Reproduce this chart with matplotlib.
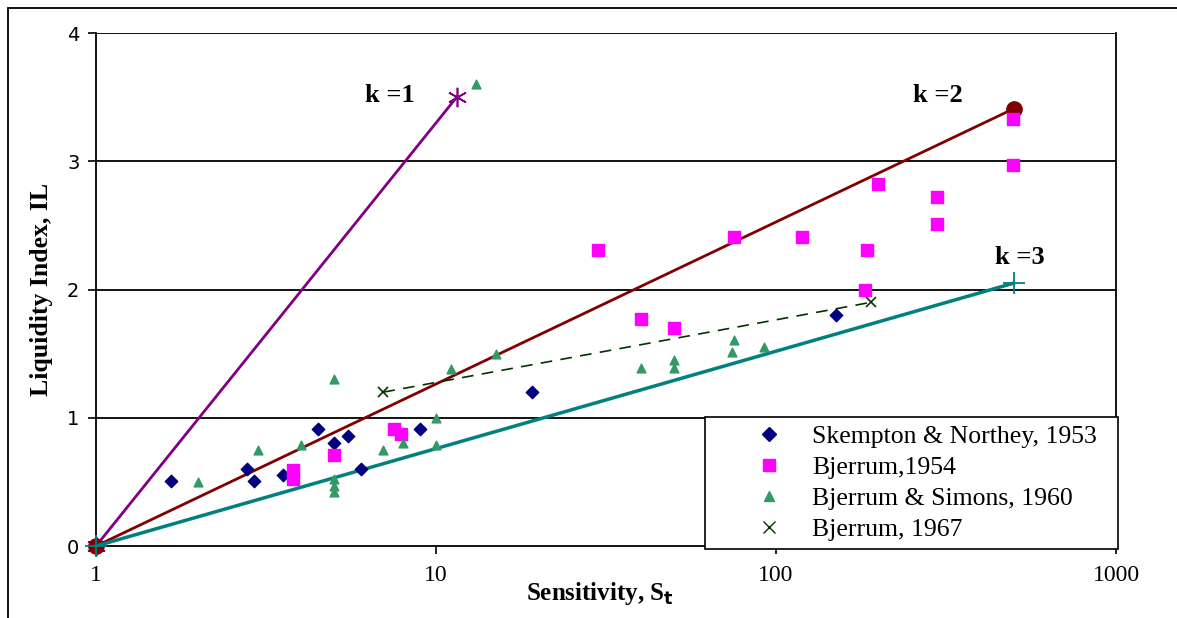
import matplotlib
matplotlib.use("Agg")
import matplotlib.pyplot as plt
from matplotlib.lines import Line2D
from matplotlib.patches import Rectangle

# Skempton & Northey, 1953
sn_st = [1.66, 2.78, 2.92, 3.55, 4.5, 5.0, 5.5, 6.0, 9.0, 19.2, 150]
sn_il = [0.51, 0.60, 0.51, 0.55, 0.91, 0.80, 0.86, 0.60, 0.91, 1.20, 1.80]

# Bjerrum, 1954
b54_st = [3.8, 3.8, 5.0, 7.5, 7.9, 30, 40, 50, 75, 119, 185, 183, 200, 297, 297, 498, 498]
b54_il = [0.59, 0.52, 0.71, 0.91, 0.87, 2.31, 1.77, 1.70, 2.41, 2.41, 2.31, 2.00, 2.82,
          2.72, 2.51, 3.33, 2.97]

# Bjerrum & Simons, 1960
bs_st = [2.0, 3.0, 4.0, 5.0, 5.0, 5.0, 5.0, 7.0, 8.0, 10, 10, 11.1, 13.1, 15, 40, 50, 50,
         75, 74, 92]
bs_il = [0.50, 0.75, 0.79, 1.30, 0.52, 0.47, 0.42, 0.75, 0.80, 1.00, 0.79, 1.38, 3.60,
         1.50, 1.39, 1.45, 1.39, 1.61, 1.51, 1.55]

# Bjerrum, 1967
b67_st = [7.0, 190]
b67_il = [1.20, 1.90]

# k lines (from origin St=1, IL=0)
k1_st, k1_il = [1, 11.5], [0, 3.5]
k2_st, k2_il = [1, 500], [0, 3.41]
k3_st, k3_il = [1, 500], [0, 2.05]

# k label anchors (St, IL)
k_labels = ["k =1", "k =2", "k =3"]
k_label_st = [7.3, 300, 520]
k_label_il = [3.51, 3.51, 2.25]

serif = "Liberation Serif"

fig = plt.figure(figsize=(11.77, 6.18), dpi=100)
ax = fig.add_axes([0.0816, 0.1165, 0.8666, 0.830])

# outer frame (runs off right and bottom edges)
fig.patches.append(Rectangle((0.0068, -0.1), 1.5, 1.087, transform=fig.transFigure,
                             fill=False, edgecolor="black", linewidth=1.3))

for yv in [1, 2, 3, 4]:
    ax.axhline(yv, color="black", linewidth=1.3, zorder=1)

ax.plot(k1_st, k1_il, color="#800080", linewidth=2, marker=(6, 2, 0), markersize=14,
        markeredgewidth=1.2, clip_on=False, zorder=3)
ax.plot(k2_st, k2_il, color="#800000", linewidth=2, marker="o", markersize=11,
        clip_on=False, zorder=3)
ax.plot(k3_st, k3_il, color="#008080", linewidth=2.5, marker="+", markersize=16,
        markeredgewidth=1.3, clip_on=False, zorder=4)
ax.plot(b67_st, b67_il, color="#003300", linewidth=1.2, linestyle=(0, (7, 5)),
        marker="x", markersize=7, markeredgewidth=1.2, zorder=3)

ax.scatter(sn_st, sn_il, marker="D", s=40, color="#000080", zorder=5)
ax.scatter(b54_st, b54_il, marker="s", s=70, color="#FF00FF", zorder=5)
ax.scatter(bs_st, bs_il, marker="^", s=40, color="#339966", zorder=5)

for txt, xs, ys in zip(k_labels, k_label_st, k_label_il):
    ax.text(xs, ys, txt, fontfamily=serif, fontweight="bold", fontsize=19,
            ha="center", va="center", zorder=7)

ax.set_xscale("log")
ax.set_xlim(1, 1000)
ax.set_ylim(0, 4)
ax.set_xticks([1, 10, 100, 1000])
ax.set_xticklabels(["1", "10", "100", "1000"])
ax.minorticks_off()
ax.set_yticks([0, 1, 2, 3, 4])
ax.tick_params(axis="both", direction="out", length=6, width=1.2, color="black")
ax.tick_params(axis="x", pad=8, labelsize=17)
ax.tick_params(axis="y", pad=6, labelsize=14)
for lab in ax.get_xticklabels():
    lab.set_fontfamily(serif)

ax.spines["top"].set_visible(False)
for s in ["left", "bottom", "right"]:
    ax.spines[s].set_linewidth(1.3)

ax.set_xlabel("Sensitivity, S$_\\mathbf{t}$", fontfamily=serif, fontweight="bold", fontsize=18)
ax.xaxis.set_label_coords(0.494, -0.066)
ax.xaxis.label.set_va("top")
ax.set_ylabel("Liquidity Index, IL", fontfamily=serif, fontweight="bold", fontsize=18.5, labelpad=10)

handles = [
    Line2D([], [], linestyle="none", marker="D", markersize=7, color="#000080"),
    Line2D([], [], linestyle="none", marker="s", markersize=9, color="#FF00FF"),
    Line2D([], [], linestyle="none", marker="^", markersize=7, color="#339966"),
    Line2D([], [], linestyle="none", marker="x", markersize=8, color="#003300"),
]
labels = ["Skempton & Northey, 1953  ", "Bjerrum,1954", "Bjerrum & Simons, 1960", "Bjerrum, 1967"]
leg = ax.legend(handles, labels, loc="lower right", bbox_to_anchor=(1.002, -0.006),
                prop={"family": serif, "size": 18.5}, frameon=True, fancybox=False,
                edgecolor="black", framealpha=1, labelspacing=0.32, handletextpad=-0.47,
                borderpad=0.3, borderaxespad=0, handlelength=4.36)
leg.get_frame().set_linewidth(1.2)
leg.set_zorder(6)

fig.savefig("out.png", dpi=100)
